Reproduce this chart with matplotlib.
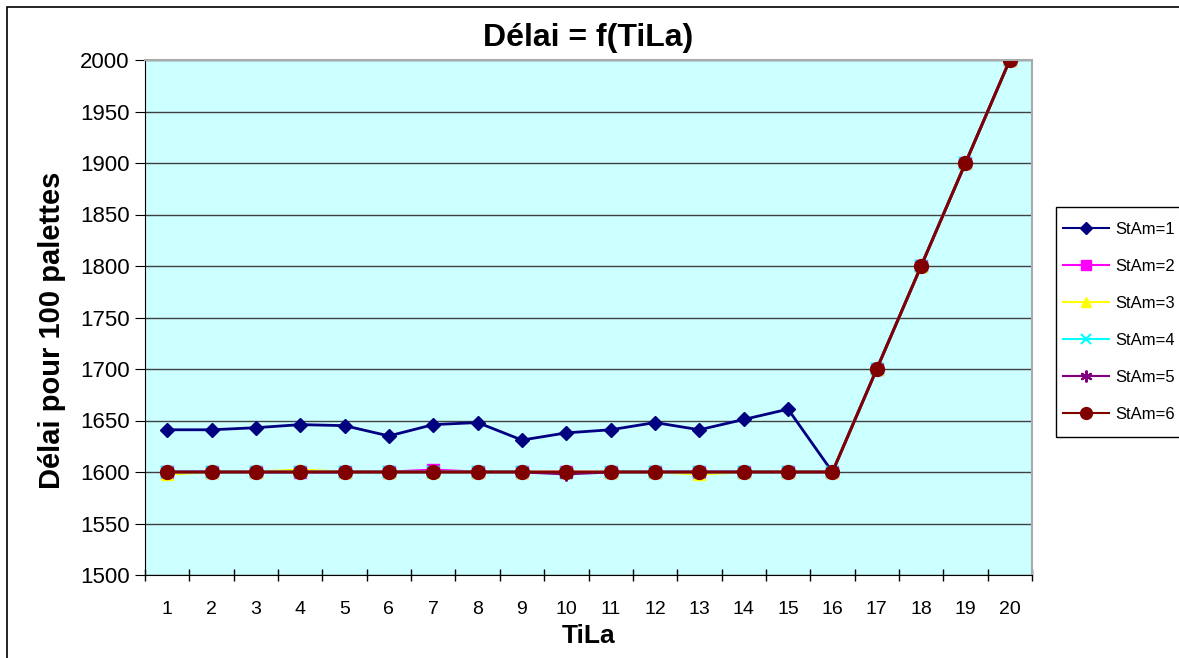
import matplotlib
matplotlib.use("Agg")
import matplotlib.pyplot as plt
from matplotlib.patches import Rectangle
import numpy as np

plt.rcParams['font.family'] = ['Liberation Sans', 'DejaVu Sans']

tila = list(range(1, 21))
stam1 = [1641, 1641, 1643, 1646, 1645, 1635, 1646, 1648, 1631, 1638,
         1641, 1648, 1641, 1651, 1661, 1600, 1700, 1800, 1900, 2000]
stam2 = [1600, 1600, 1600, 1600, 1600, 1600, 1602, 1600, 1600, 1600,
         1600, 1600, 1600, 1600, 1600, 1600, 1700, 1800, 1900, 2000]
stam3 = [1598, 1600, 1600, 1602, 1600, 1600, 1600, 1600, 1600, 1600,
         1600, 1600, 1598, 1600, 1600, 1600, 1700, 1800, 1900, 2000]
stam4 = [1600, 1600, 1600, 1600, 1600, 1600, 1600, 1600, 1600, 1599,
         1600, 1600, 1600, 1600, 1600, 1600, 1700, 1800, 1900, 2000]
stam5 = [1600, 1600, 1600, 1600, 1600, 1600, 1600, 1600, 1600, 1598,
         1600, 1600, 1600, 1600, 1600, 1600, 1700, 1800, 1900, 2000]
stam6 = [1600, 1600, 1600, 1600, 1600, 1600, 1600, 1600, 1600, 1600,
         1600, 1600, 1600, 1600, 1600, 1600, 1700, 1800, 1900, 2000]
labels = ["StAm=1", "StAm=2", "StAm=3", "StAm=4", "StAm=5", "StAm=6"]

W, H = 1179, 658
fig = plt.figure(figsize=(W / 100, H / 100), dpi=100)
ax = fig.add_axes([145 / W, 1 - 575 / H, (1032 - 145) / W, (575 - 60) / H])
ax.set_facecolor('#CCFFFF')

# outer chart border
fig.patches.append(Rectangle((7 / W, -0.1), 1.2, 1 - 7 / H + 0.1,
                             transform=fig.transFigure, fill=False,
                             edgecolor='black', linewidth=1.2, zorder=-1))
# legend frame (extends past the right edge, as in the reference)
fig.patches.append(Rectangle((1056 / W, 1 - 437 / H), 0.2, (437 - 207) / H,
                             transform=fig.transFigure, fill=False,
                             edgecolor='black', linewidth=1, zorder=-1))

styles = [
    dict(color='#000080', marker='D', ms=7.5, mfc='#000080', mec='#000080'),
    dict(color='#FF00FF', marker='s', ms=9, mfc='#FF00FF', mec='#FF00FF'),
    dict(color='#FFFF00', marker='^', ms=9, mfc='#FFFF00', mec='#FFFF00'),
    dict(color='#00FFFF', marker='x', ms=9, mfc='#00FFFF', mec='#00FFFF', mew=1.5),
    dict(color='#800080', marker=(6, 2, 0), ms=10, mfc='#800080', mec='#800080', mew=1.5),
    dict(color='#800000', marker='o', ms=10, mfc='#800000', mec='#800000'),
]
series = [stam1, stam2, stam3, stam4, stam5, stam6]
for s, lab, st in zip(series, labels, styles):
    ax.plot(tila, s, label=lab, lw=2, **st)

ax.set_xlim(0.5, 20.5)
ax.set_ylim(1500, 2000)
ax.set_yticks(np.arange(1500, 2001, 50))
ax.set_xticks(tila)
ax.set_xticks(np.arange(0.5, 20.6, 1), minor=True)
ax.tick_params(axis='x', which='major', length=0, pad=19, labelsize=14)
ax.tick_params(axis='x', which='minor', length=8, direction='inout', width=1)
ax.tick_params(axis='y', which='major', length=7, direction='out', labelsize=16, pad=4)
ax.yaxis.grid(True, color='#404040', lw=1)
ax.set_axisbelow(True)
for sp in ['top', 'right']:
    ax.spines[sp].set_color('#aaaaaa')
    ax.spines[sp].set_linewidth(1.5)
for sp in ['left', 'bottom']:
    ax.spines[sp].set_color('black')

ax.set_title('Délai = f(TiLa)', fontsize=23, fontweight='bold', pad=10)
ax.set_xlabel('TiLa', fontsize=19, fontweight='bold', labelpad=4)
ax.set_ylabel('Délai pour 100 palettes', fontsize=21, fontweight='bold', labelpad=10)
ax.yaxis.label.set_y(0.476)

leg = ax.legend(loc='upper left', bbox_to_anchor=(1056 / W, 1 - 215.5 / H),
                bbox_transform=fig.transFigure, frameon=False,
                fontsize=12, labelspacing=1.32,
                handlelength=2.8, handletextpad=0.35,
                borderpad=0.4, borderaxespad=0, markerscale=0.85)
leg.set_zorder(10)
for h in leg.get_lines():
    h.set_linewidth(1.5)

fig.savefig('out.png', dpi=100)
